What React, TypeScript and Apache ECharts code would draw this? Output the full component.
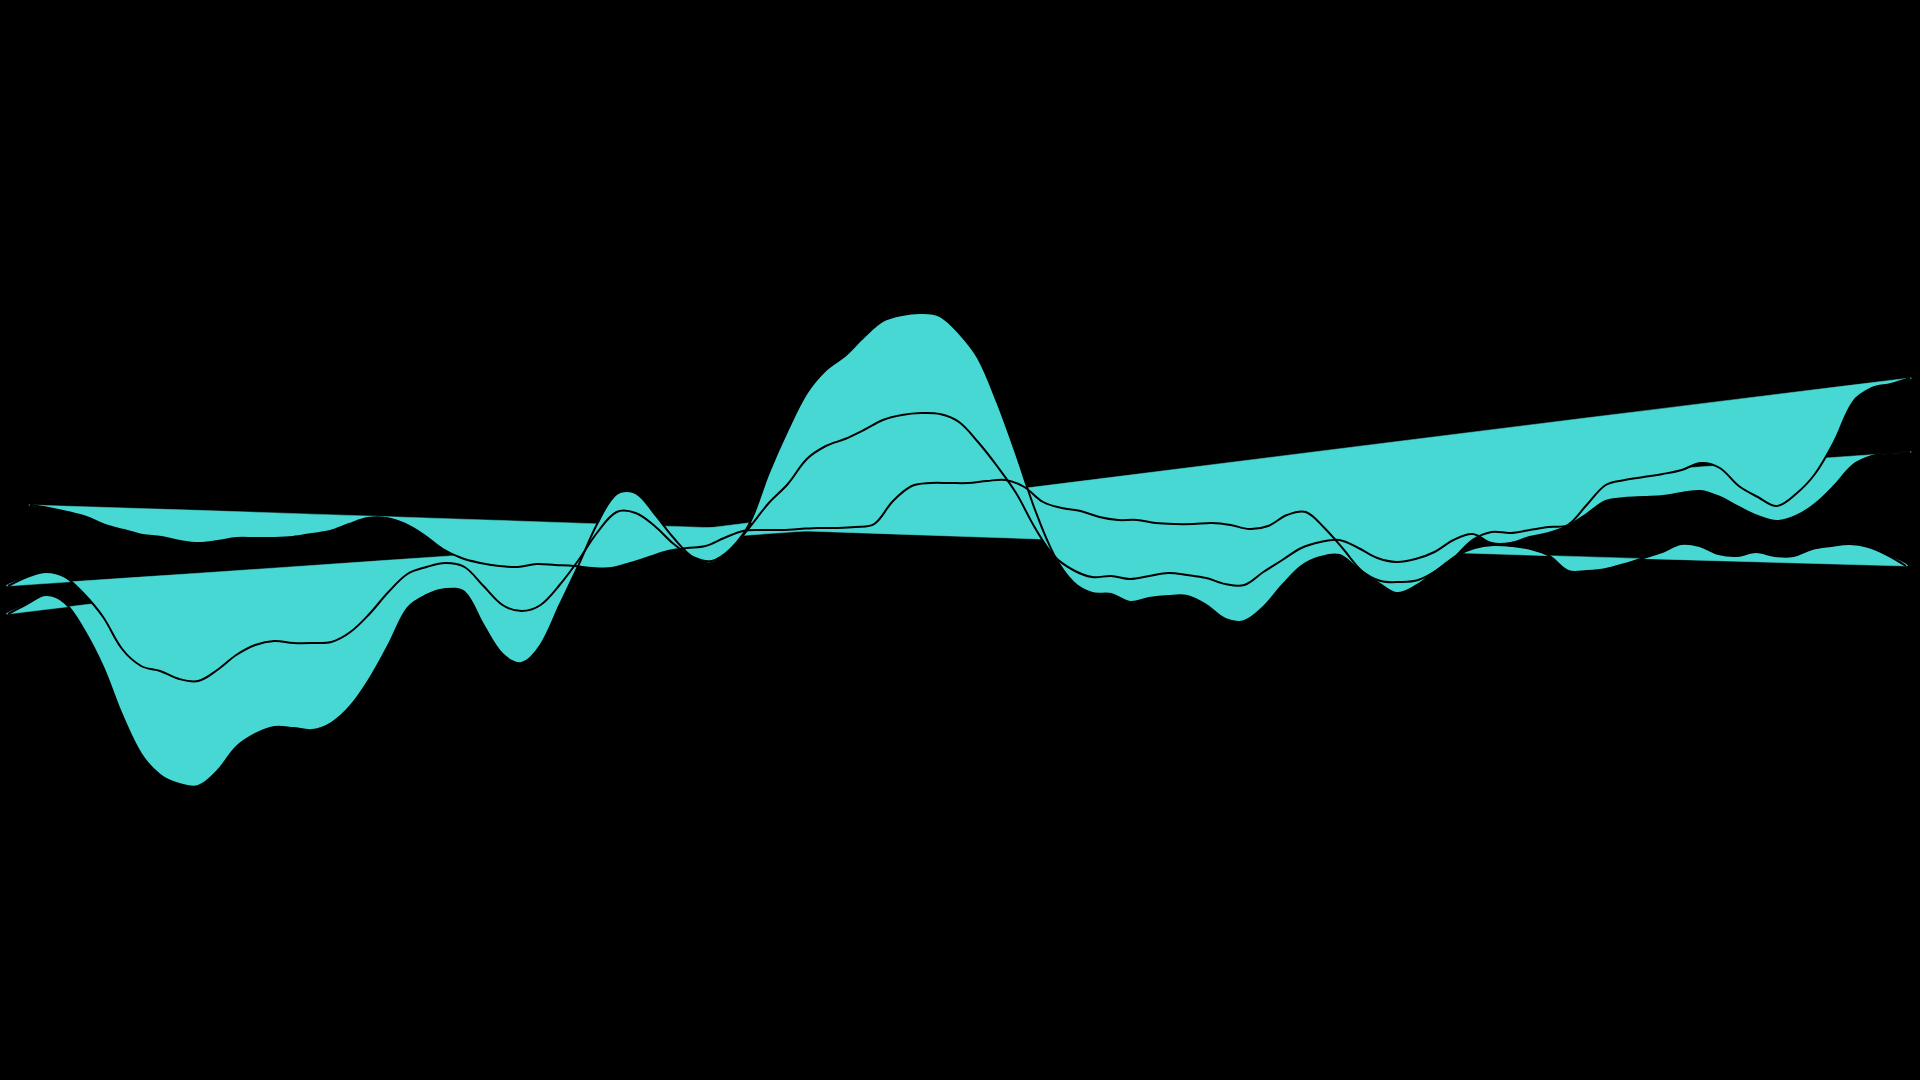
import React, { useEffect, useRef } from "react";
import * as echarts from "echarts";

// Series values (arbitrary units), evenly spaced along each series' x range
const seriesA: number[] = [
  9.5, 9.2, 8.8, 8.3, 7.5, 7.0, 6.5, 6.3, 5.9, 5.7,
  5.9, 6.2, 6.2, 6.2, 6.3, 6.6, 6.9, 7.6, 8.2, 8.2,
  7.6, 6.5, 5.1, 4.2, 3.7, 3.4, 3.3, 3.6, 3.5, 3.4,
  3.2, 3.2, 3.7, 4.3, 4.9, 5.2, 5.4, 6.2, 6.9, 7.0,
  7.0, 7.1, 7.2, 7.2, 7.3, 7.6, 9.9, 11.4, 11.7, 11.7,
  11.7, 11.9, 12.0, 11.3, 9.8, 9.2, 8.9, 8.3, 8.0, 8.0,
  7.7, 7.6, 7.6, 7.7, 7.5, 7.1, 7.4, 8.5, 8.8, 7.2,
  5.1, 2.9, 1.9, 1.8, 2.0, 3.0, 4.4, 5.2, 5.5, 5.4,
  5.1, 4.4, 2.9, 2.9, 3.1, 3.6, 4.2, 4.8, 5.6, 5.4,
  4.6, 4.4, 4.8, 4.4, 4.4, 5.1, 5.4, 5.6, 5.3, 4.5,
  3.4,
];

const seriesB: number[] = [
  1.4, 2.3, 2.8, 2.3, 0.6, -1.7, -4.9, -6.6, -7.1, -7.9,
  -8.1, -7.0, -5.5, -4.5, -4.1, -4.3, -4.3, -4.2, -3.2, -1.4,
  0.8, 2.6, 3.3, 3.7, 3.3, 1.4, -0.5, -1.1, -0.5, 1.5,
  4.0, 6.8, 8.8, 8.7, 7.4, 5.6, 4.3, 3.9, 5.1, 7.3,
  9.7, 11.6, 14.1, 15.4, 16.1, 17.0, 18.0, 18.5, 18.7, 18.6,
  17.8, 15.8, 13.4, 10.7, 7.2, 4.4, 3.0, 2.3, 2.4, 2.1,
  2.4, 2.7, 2.5, 2.2, 1.6, 1.5, 2.8, 4.0, 5.2, 5.8,
  6.0, 5.2, 4.2, 3.8, 4.1, 4.8, 6.0, 6.6, 5.7, 5.7,
  6.3, 6.7, 7.4, 8.6, 9.9, 10.2, 10.3, 10.4, 10.7, 10.9,
  10.3, 9.3, 8.4, 7.9, 8.4, 9.6, 11.4, 13.5, 14.4, 14.7,
  14.8,
];

const seriesC: number[] = [
  -1.4, -0.4, 0.5, -0.3, -3.0, -6.7, -11.5, -15.4, -17.5, -18.4,
  -18.6, -17.1, -14.7, -13.4, -12.7, -12.8, -13.0, -12.3, -10.6, -7.9,
  -4.5, -0.8, 0.5, 1.1, 0.8, -2.5, -5.4, -6.3, -4.5, -0.5,
  3.5, 7.7, 10.6, 10.7, 8.6, 6.2, 4.3, 3.7, 5.1, 7.7,
  12.7, 17.0, 20.7, 23.0, 24.4, 26.3, 27.9, 28.5, 28.7, 28.4,
  26.7, 24.2, 19.8, 14.6, 9.0, 4.5, 1.8, 0.7, 0.6, -0.2,
  0.2, 0.4, 0.4, -0.5, -1.9, -2.1, -0.7, 1.5, 3.4, 4.3,
  4.5, 3.1, 1.8, 0.7, 1.4, 2.8, 4.2, 6.0, 6.8, 6.7,
  7.0, 7.3, 7.5, 9.5, 11.5, 12.0, 12.3, 12.6, 13.0, 13.7,
  13.2, 11.4, 10.3, 9.4, 10.6, 12.6, 15.8, 19.8, 21.2, 21.6,
  22.2,
];

// x range covered by each series
const xRangeA: [number, number] = [1.16, 99.79];
const xRangeB: [number, number] = [0, 100];
const xRangeC: [number, number] = [0, 100];

const X_MIN = 0;
const X_MAX = 100;
const Y_MIN = -48;
const Y_MAX = 60;

const FILL = "#48d8d4";
const STROKE = "#000000";
const SMOOTH = 0.35;

function toPoints(values: number[], range: [number, number]): number[][] {
  const step = (range[1] - range[0]) / (values.length - 1);
  return values.map((v, i) => [range[0] + i * step, v]);
}

export default function App() {
  const ref = useRef<HTMLDivElement>(null);

  useEffect(() => {
    document.body.style.margin = "0";
    document.body.style.background = "#000";
    if (!ref.current) return;
    const chart = echarts.init(ref.current, undefined, { renderer: "svg" });

    const all = [
      { name: "A", pts: toPoints(seriesA, xRangeA) },
      { name: "B", pts: toPoints(seriesB, xRangeB) },
      { name: "C", pts: toPoints(seriesC, xRangeC) },
    ];

    const polygonSeries = all.map((s) => ({
      type: "custom",
      name: s.name + "-area",
      coordinateSystem: "cartesian2d",
      clip: false,
      silent: true,
      z: 2,
      data: [[s.pts[0][0], s.pts[0][1]]],
      renderItem: (_params: any, api: any) => {
        const points = s.pts.map((p) => api.coord(p));
        return {
          type: "polygon",
          shape: { points, smooth: SMOOTH },
          style: { fill: FILL, stroke: FILL, lineWidth: 0.5 },
        };
      },
    }));

    const lineSeries = all.map((s) => ({
      type: "custom",
      name: s.name,
      coordinateSystem: "cartesian2d",
      clip: false,
      silent: true,
      z: 5,
      data: [[s.pts[0][0], s.pts[0][1]]],
      renderItem: (_params: any, api: any) => {
        const points = s.pts.map((p) => api.coord(p));
        return {
          type: "polyline",
          shape: { points, smooth: SMOOTH },
          style: { fill: "none", stroke: STROKE, lineWidth: 2 },
        };
      },
    }));

    chart.setOption({
      animation: false,
      backgroundColor: "#000",
      grid: { left: 8, right: 10, top: 0, bottom: 0 },
      xAxis: { type: "value", min: X_MIN, max: X_MAX, show: false },
      yAxis: { type: "value", min: Y_MIN, max: Y_MAX, show: false },
      tooltip: { show: false },
      series: [...polygonSeries, ...lineSeries],
    });

    return () => {
      chart.dispose();
    };
  }, []);

  return (
    <div
      ref={ref}
      style={{ width: "1920px", height: "1080px", background: "#000" }}
    />
  );
}
